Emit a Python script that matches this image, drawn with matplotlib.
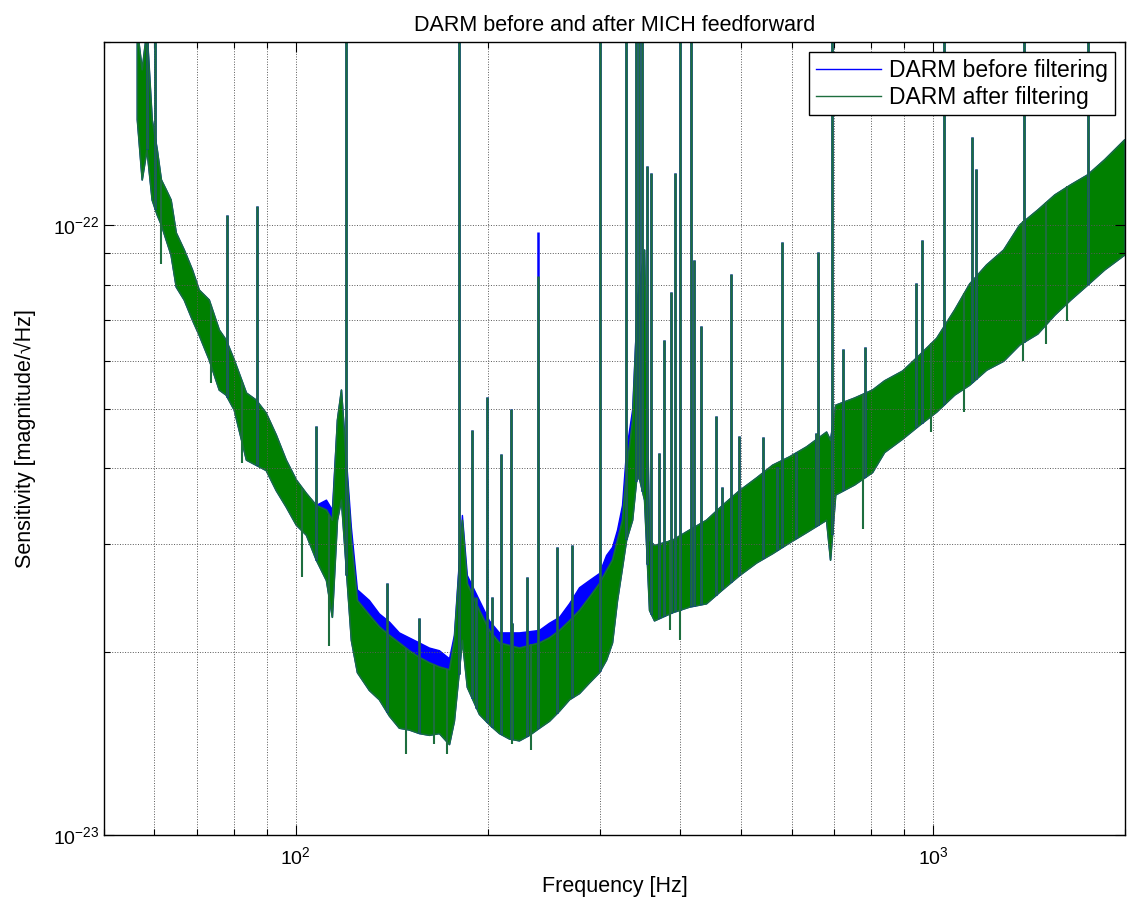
import numpy as np
import matplotlib.pyplot as plt
from matplotlib.lines import Line2D
from matplotlib.ticker import FixedLocator

plt.rcParams['font.family'] = ['Liberation Sans', 'DejaVu Sans']

# DARM amplitude spectral density, units of 1e-23 /sqrt(Hz)
# band edges (troughs / crests of the noise) at each frequency
freq = [56.3, 57.3, 58.3, 59.4, 60.5, 61.4, 62.5, 63.6, 64.8, 66.7,
        68.7, 70.4, 73.0, 75.7, 77.6, 79.9, 83.5, 86.5, 89.7, 93.0,
        96.4, 100.0, 103.7, 107.5, 111.5, 113.9, 116.0, 117.7, 122.0, 124.7,
        130.2, 135.0, 140.0, 145.1, 150.4, 156.0, 161.8, 167.7, 173.9, 177.0,
        182.2, 185.5, 193.8, 200.9, 208.3, 216.0, 223.9, 232.2, 240.7, 249.6,
        258.8, 268.3, 278.2, 288.4, 299.0, 306.7, 313.4, 319.1, 324.9, 329.7,
        337.0, 343.1, 351.9, 358.3, 364.8, 389.3, 414.0, 440.2, 466.5, 496.1,
        527.5, 558.9, 594.1, 631.8, 679.2, 689.0, 702.0, 751.6, 802.0, 837.6,
        894.0, 950.6, 1011, 1079, 1139, 1211, 1288, 1365, 1457, 1549,
        1641, 1745, 1855, 1994]

after_hi = [21.0, 18.04, 21.0, 14.94, 13.33, 11.90, 11.46, 11.03, 9.74, 9.13,
            8.47, 7.85, 7.56, 6.75, 6.50, 6.03, 5.32, 5.18, 4.93, 4.54,
            4.13, 3.83, 3.64, 3.48, 3.42, 3.29, 4.80, 5.38, 3.05, 2.43,
            2.30, 2.20, 2.13, 2.07, 2.01, 1.96, 1.92, 1.89, 1.87, 2.09,
            3.29, 2.59, 2.34, 2.17, 2.07, 2.05, 2.03, 2.05, 2.07, 2.11,
            2.17, 2.25, 2.34, 2.46, 2.59, 2.72, 2.83, 3.05, 3.29, 3.97,
            4.80, 7.56, 9.13, 3.05, 2.99, 3.05, 3.17, 3.29, 3.48, 3.68,
            3.86, 4.05, 4.18, 4.34, 4.59, 4.45, 5.08, 5.22, 5.38, 5.57,
            5.78, 6.14, 6.54, 7.28, 8.03, 8.63, 9.13, 10.04, 10.62, 11.24,
            11.68, 12.13, 12.84, 13.84]

after_lo = [14.94, 11.90, 13.33, 11.03, 10.42, 10.04, 9.48, 8.96, 7.94, 7.56,
            7.01, 6.62, 6.03, 5.38, 5.28, 4.99, 4.13, 4.05, 3.97, 3.68,
            3.46, 3.23, 3.11, 2.83, 2.62, 2.28, 3.29, 3.55, 2.09, 1.85,
            1.73, 1.67, 1.57, 1.50, 1.49, 1.47, 1.46, 1.47, 1.41, 1.54,
            2.09, 1.75, 1.58, 1.52, 1.47, 1.44, 1.43, 1.46, 1.50, 1.54,
            1.60, 1.67, 1.71, 1.78, 1.85, 1.94, 2.07, 2.43, 2.75, 3.05,
            3.29, 3.97, 3.55, 2.34, 2.25, 2.32, 2.37, 2.40, 2.53, 2.67,
            2.80, 2.90, 3.02, 3.14, 3.29, 2.83, 3.62, 3.76, 3.94, 4.25,
            4.47, 4.71, 4.95, 5.28, 5.48, 5.80, 6.00, 6.38, 6.65, 7.14,
            7.56, 8.00, 8.47, 8.96]

before_hi = [21.0, 18.04, 21.0, 14.94, 13.33, 11.90, 11.46, 11.03, 9.74, 9.13,
             8.47, 7.85, 7.56, 6.75, 6.50, 6.03, 5.32, 5.18, 4.93, 4.54,
             4.13, 3.83, 3.64, 3.48, 3.55, 3.42, 4.80, 5.38, 3.20, 2.53,
             2.43, 2.31, 2.24, 2.15, 2.11, 2.07, 2.03, 2.01, 1.95, 2.13,
             3.35, 2.67, 2.43, 2.25, 2.15, 2.15, 2.15, 2.16, 2.17, 2.23,
             2.28, 2.40, 2.55, 2.62, 2.69, 2.88, 2.97, 3.17, 3.48, 4.28,
             4.99, 7.56, 9.13, 3.05, 2.99, 3.05, 3.17, 3.29, 3.48, 3.68,
             3.86, 4.05, 4.18, 4.34, 4.59, 4.45, 5.08, 5.22, 5.38, 5.57,
             5.78, 6.14, 6.54, 7.28, 8.03, 8.63, 9.13, 10.04, 10.62, 11.24,
             11.68, 12.13, 12.84, 13.84]
# troughs of the unfiltered trace sit under the filtered one
before_lo = after_lo

# narrow spectral lines (Hz, peak); 30 = off scale
line_freq = [58.3, 60.1, 77.9, 86.9, 107.5, 120.0, 180.0, 188.9, 199.5, 209.8,
             217.5, 230.5, 240.0, 256.9, 271.3, 300.0, 330.0, 341.8, 345.6, 349.2,
             355.6, 360.8, 371.5, 378.1, 387.8, 393.6, 400.6, 417.0, 421.5, 432.3,
             456.3, 481.8, 496.0, 541.0, 579.4, 659.9, 694.0, 722.3, 782.2, 940.4,
             960.6, 1040, 1151, 1168, 1388, 1747,
             138.9, 156.0, 191.8, 203.0, 218.0, 466.5, 569.0, 609.6, 655.0]
line_after = [30, 30, 10.42, 10.75, 4.68, 30, 30, 4.62, 5.24, 4.21,
              4.99, 2.65, 8.25, 2.97, 2.99, 30, 30, 30, 30, 30,
              12.5, 12.2, 4.24, 6.50, 7.79, 12.2, 30, 30, 8.79, 6.83,
              4.86, 8.31, 4.51, 4.49, 9.38, 9.06, 30, 6.26, 6.33, 8.06,
              9.48, 30, 13.99, 12.36, 30, 30,
              2.59, 2.27, 2.46, 2.46, 2.23, 3.73, 4.02, 4.24, 4.57]
line_before = [30, 30, 10.42, 10.75, 4.68, 30, 30, 4.62, 5.24, 4.21,
               4.99, 2.65, 9.77, 2.97, 2.99, 30, 30, 30, 30, 30,
               12.5, 12.2, 4.24, 6.50, 7.79, 12.2, 30, 30, 8.79, 6.83,
               4.86, 8.31, 4.51, 4.49, 9.38, 9.06, 30, 6.26, 6.33, 8.06,
               9.48, 30, 13.99, 12.36, 30, 30,
               2.59, 2.27, 2.46, 2.46, 2.23, 3.73, 4.02, 4.24, 4.57]

# deepest downward excursions of the filtered trace
dip_freq = [61.4, 73.5, 82.3, 102.2, 112.7, 148.9, 164.7, 172.7, 218.2, 233.9,
            386.0, 400.6, 775, 993, 1117, 1385, 1502, 1623]
dip_after = [8.63, 5.52, 4.08, 2.65, 2.04, 1.36, 1.41, 1.36, 1.41, 1.38,
             2.17, 2.09, 3.18, 4.59, 4.95, 6.00, 6.40, 6.98]

x_ticks = [100, 1000]
y_ticks = [1e-23, 1e-22]

scale = 1e-23
blue = '#0000ff'
green = '#008000'
line_green = '#1d6e3e'

f = np.array(freq)


def band_at(fq, edge):
    return np.exp(np.interp(np.log(fq), np.log(f), np.log(np.array(edge) * scale)))


fig = plt.figure(figsize=(11.28, 9.05), dpi=100)
ax = fig.add_axes([104 / 1128, 70 / 905, 1021 / 1128, 793 / 905])
ax.set_xscale('log')
ax.set_yscale('log')

# before filtering
ax.fill_between(f, np.array(before_lo) * scale, np.array(before_hi) * scale,
                facecolor=blue, edgecolor=blue, lw=1.0)
lf = np.array(line_freq)
ax.vlines(lf, band_at(lf, before_lo), np.array(line_before) * scale, color=blue, lw=1.8)

# after filtering
ax.fill_between(f, np.array(after_lo) * scale, np.array(after_hi) * scale,
                facecolor=green, edgecolor='#16703a', lw=1.2)
ax.vlines(lf, band_at(lf, after_lo), np.array(line_after) * scale, color=line_green, lw=1.8)
df = np.array(dip_freq)
ax.vlines(df, np.array(dip_after) * scale, band_at(df, after_hi), color=line_green, lw=1.5)

ax.set_xlim(50, 2000)
ax.set_ylim(1e-23, 2e-22)
ax.xaxis.set_major_locator(FixedLocator(x_ticks))
ax.yaxis.set_major_locator(FixedLocator(y_ticks))

ax.tick_params(which='both', direction='in', top=True, right=True, width=0.8)
ax.tick_params(which='major', length=7, labelsize=14)
ax.tick_params(axis='x', which='major', pad=8)
ax.tick_params(which='minor', length=4, labelleft=False, labelbottom=False)
ax.grid(True, which='both', ls=':', color='0.35', lw=0.7)
for s in ax.spines.values():
    s.set_linewidth(1.0)

ax.set_title('DARM before and after MICH feedforward', fontsize=15.5, pad=8)
ax.set_xlabel('Frequency [Hz]', fontsize=15.5, labelpad=6)
ax.set_ylabel('Sensitivity [magnitude/\u221aHz]', fontsize=15.5, labelpad=12)

handles = [Line2D([], [], color=blue, lw=1), Line2D([], [], color=line_green, lw=1)]
leg = ax.legend(handles, ['DARM before filtering', 'DARM after filtering'],
                loc='upper right', fontsize=16.5, handlelength=2.85, handletextpad=0.35,
                labelspacing=0.15, borderpad=0.3, fancybox=False,
                framealpha=1, edgecolor='black', borderaxespad=0.45)
leg.get_frame().set_linewidth(1.0)

fig.savefig('out.png', dpi=100)
